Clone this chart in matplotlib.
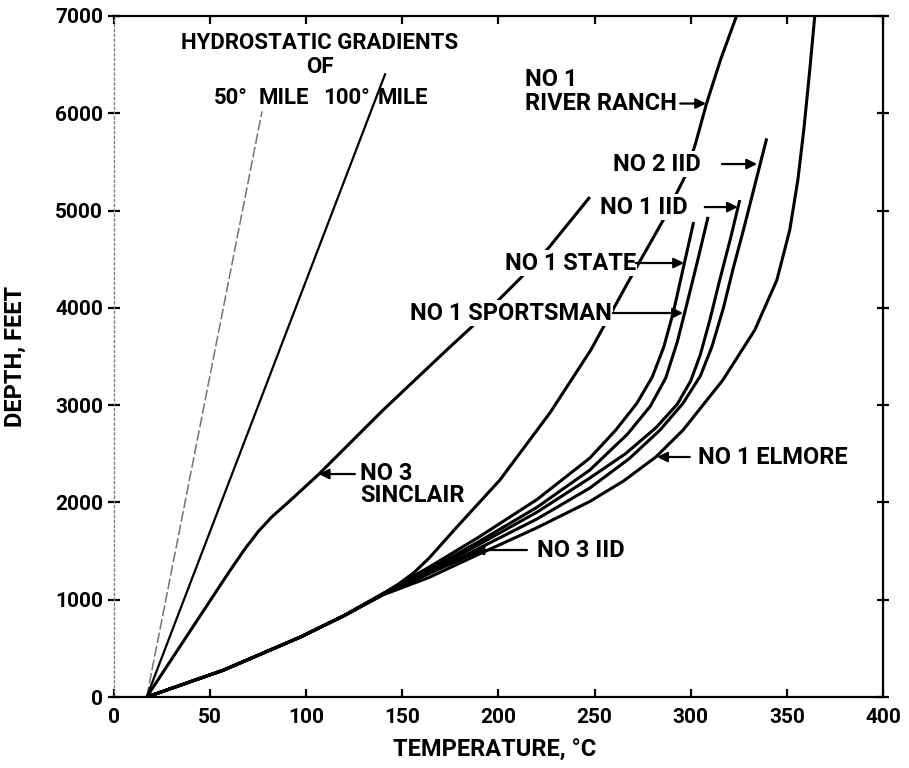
import matplotlib
matplotlib.use("Agg")
import numpy as np
import matplotlib.pyplot as plt

# temperature (deg C) vs depth (feet) for each well
sinclair_t = [17, 40, 60, 68, 75, 82, 90, 106, 140, 173, 186, 212, 226, 247.5]
sinclair_d = [0, 690, 1290, 1520, 1700, 1850, 1990, 2280, 2950, 3566, 3803, 4317, 4615, 5139]

ranch_t = [17, 57, 97, 120, 140, 148, 156, 164, 178, 200.7, 226.7, 248, 267, 285.7,
           292.6, 297, 302.5, 308.2, 315.5, 323.8]
ranch_d = [0, 277, 617, 840, 1062, 1162, 1278, 1430, 1740, 2230, 2919, 3566, 4250, 4903,
           5177, 5348, 5690, 6100, 6550, 7000]

state_t = [17, 57, 97, 120, 140, 164, 190, 220, 247.5, 261, 272, 280, 286, 291, 296, 301.5]
state_d = [0, 277, 617, 840, 1065, 1336, 1647, 2030, 2456, 2744, 3020, 3290, 3600, 3960,
           4400, 4882]

sports_t = [17, 57, 97, 120, 140, 164, 190, 220, 247.5, 267, 279, 287, 293, 298.5, 304, 309]
sports_d = [0, 277, 617, 840, 1063, 1310, 1600, 1950, 2333, 2700, 2990, 3280, 3650, 4080,
            4520, 4935]

iid1_t = [17, 57, 97, 120, 140, 164, 190, 220, 247.5, 266, 282, 293, 300, 305, 310, 315,
          320.5, 325.5]
iid1_d = [0, 277, 617, 840, 1060, 1290, 1570, 1900, 2251, 2500, 2770, 3010, 3250, 3520,
          3880, 4280, 4700, 5108]

iid2_t = [17, 57, 97, 120, 140, 164, 190, 220, 247.5, 268, 284, 296, 305, 311, 317, 322,
          327.4, 334, 339.5]
iid2_d = [0, 277, 617, 840, 1055, 1270, 1530, 1830, 2148, 2450, 2744, 3020, 3300, 3600,
          4000, 4400, 4800, 5314, 5742]

iid3_t = [17, 57, 97, 120, 140, 165, 192]
iid3_d = [0, 277, 617, 840, 1057, 1280, 1515]

elmore_t = [17, 57, 97, 120, 140, 164, 190, 220, 247.5, 265, 282, 296, 316.7, 333.3, 344.8,
            351.5, 355.7, 358.8, 361.9, 364.5]
elmore_d = [0, 277, 617, 840, 1050, 1230, 1470, 1740, 2010, 2220, 2470, 2744, 3258, 3772,
            4286, 4800, 5314, 5828, 6445, 7000]

# hydrostatic gradient reference lines
grad50_t = [17, 77]
grad50_d = [0, 6020]
grad100_t = [17, 141]
grad100_d = [0, 6400]

xticks = [0, 50, 100, 150, 200, 250, 300, 350, 400]
yticks = [0, 1000, 2000, 3000, 4000, 5000, 6000, 7000]

plt.rcParams['font.family'] = ['Roboto', 'DejaVu Sans']
plt.rcParams['font.weight'] = 'bold'

fig = plt.figure(figsize=(9.09, 7.68), dpi=100)
ax = fig.add_axes([0.1254, 0.0924, 0.846, 0.8868])

ax.plot(grad50_t, grad50_d, color='0.45', lw=1.1, dashes=(7, 2), zorder=2)
ax.plot(grad100_t, grad100_d, color='k', lw=1.6, zorder=2)

for t, d in [(sinclair_t, sinclair_d), (ranch_t, ranch_d), (state_t, state_d),
             (sports_t, sports_d), (iid1_t, iid1_d), (iid2_t, iid2_d),
             (iid3_t, iid3_d), (elmore_t, elmore_d)]:
    ax.plot(t, d, color='k', lw=2.2, solid_capstyle='butt',
            solid_joinstyle='round', zorder=3)

ax.set_xlim(0, 400)
ax.set_ylim(0, 7000)
ax.set_xticks(xticks)
ax.set_yticks(yticks)

fs = 17
box = dict(facecolor='white', edgecolor='none', pad=1.0)


def label(s, x, y, ha='left'):
    ax.text(x, y, s, fontsize=fs, fontweight='bold', ha=ha, va='center',
            bbox=box, zorder=5)


def arrow(x0, x1, y):
    ax.annotate('', xy=(x1, y), xytext=(x0, y),
                arrowprops=dict(arrowstyle='-|>', color='k', lw=1.6,
                                mutation_scale=15, shrinkA=0, shrinkB=0),
                zorder=6)


hs = 16
ax.text(107, 6725, 'HYDROSTATIC GRADIENTS', fontsize=hs, fontweight='bold',
        ha='center', va='center', zorder=5)
ax.text(107, 6475, 'OF', fontsize=hs, fontweight='bold', ha='center', va='center', zorder=5)
ax.text(69.5, 6160, '50°', fontsize=hs, fontweight='bold', ha='right', va='center', zorder=5)
ax.text(75, 6160, 'MILE', fontsize=hs, fontweight='bold', ha='left', va='center', zorder=5)
ax.text(133, 6160, '100°', fontsize=hs, fontweight='bold', ha='right', va='center', zorder=5)
ax.text(137, 6160, 'MILE', fontsize=hs, fontweight='bold', ha='left', va='center', zorder=5)

label('NO 1', 213.7, 6342)
label('RIVER RANCH', 213.7, 6100)
arrow(294.5, 308, 6100)

label('NO 2 IID', 259.5, 5478)
arrow(316.2, 334.5, 5478)

label('NO 1 IID', 252.7, 5036)
arrow(307.3, 324.5, 5036)

label('NO 1 STATE', 203.3, 4461)
arrow(271.4, 296.5, 4461)

label('NO 1 SPORTSMAN', 153.9, 3947)
arrow(259.5, 296, 3947)

label('NO 3', 127.9, 2302)
label('SINCLAIR', 127.9, 2076)
arrow(125.3, 106.5, 2292)

label('NO 3 IID', 220, 1511)
arrow(214.8, 187, 1511)

label('NO 1 ELMORE', 303.7, 2467)
arrow(299.5, 282.5, 2467)

for side in ['top', 'right', 'bottom']:
    ax.spines[side].set_linewidth(1.6)
ax.spines['left'].set_color('0.5')
ax.spines['left'].set_linewidth(1.0)
ax.spines['left'].set_linestyle((0, (1.5, 2)))

ax.tick_params(axis='x', which='major', direction='in', length=6, width=1.6,
               top=True, labelsize=15, pad=8)
ax.tick_params(axis='y', which='major', direction='inout', length=8, width=1.6,
               right=True, labelsize=15, pad=4)
for lbl in ax.get_xticklabels() + ax.get_yticklabels():
    lbl.set_fontweight('bold')

ax.set_xlabel('TEMPERATURE, °C', fontsize=17, fontweight='bold')
ax.xaxis.set_label_coords(0.495, -0.062)
ax.set_ylabel('DEPTH, FEET', fontsize=17, fontweight='bold')
ax.yaxis.set_label_coords(-0.113, 0.50)

fig.savefig('out.png', dpi=100)
